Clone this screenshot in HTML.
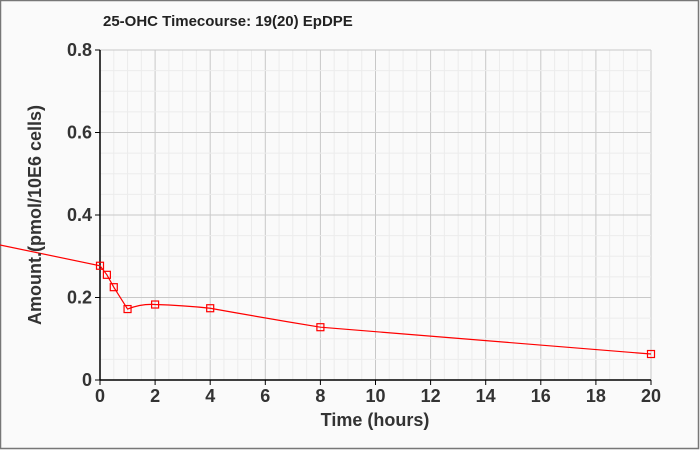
<!DOCTYPE html>
<html><head><style>
body{margin:0;background:#fafafa}
svg{display:block}
text{font-family:"Liberation Sans",Arial,sans-serif;font-weight:bold;fill:#333}
</style></head><body>
<svg id="s" width="700" height="450" xmlns="http://www.w3.org/2000/svg">
<rect x="0.5" y="0.5" width="698" height="448" fill="#fafafa" stroke="#777" stroke-width="1.5"/>
<g id="g"></g>
<text x="103" y="26" font-size="15" style="fill:#222">25-OHC Timecourse: 19(20) EpDPE</text>
<text x="375" y="426" font-size="18" text-anchor="middle">Time (hours)</text>
<text transform="translate(41,215) rotate(-90)" font-size="18" text-anchor="middle">Amount.(pmol/10E6 cells)</text>
</svg>
<script>
const g=document.getElementById('g');let h='';
const X=t=>100+t*27.55, Y=v=>380-v*412.5;
for(let t=0;t<=20;t+=0.5){const x=X(t);h+=`<line x1="${x}" y1="50" x2="${x}" y2="380" stroke="${t%2==0?'#c8c8c8':'#ececec'}" stroke-width="1"/>`;}
for(let v=0;v<=0.8001;v+=0.05){const y=Y(v);const maj=Math.abs(v/0.2-Math.round(v/0.2))<1e-6;h+=`<line x1="100" y1="${y}" x2="651" y2="${y}" stroke="${maj?'#c8c8c8':'#ececec'}" stroke-width="1"/>`;}
h+=`<line x1="100" y1="50" x2="100" y2="380" stroke="#000" stroke-width="1.5"/><line x1="100" y1="380" x2="651" y2="380" stroke="#000" stroke-width="1.5"/>`;
for(let t=0;t<=20;t+=2){const x=X(t);h+=`<line x1="${x}" y1="380" x2="${x}" y2="385" stroke="#000"/><text x="${x}" y="402" font-size="18" text-anchor="middle">${t}</text>`;}
for(let v=0;v<=0.8001;v+=0.2){const y=Y(v);h+=`<line x1="95" y1="${y}" x2="100" y2="${y}" stroke="#000"/><text x="92" y="${y+6}" font-size="18" text-anchor="end">${v==0?'0':v.toFixed(1)}</text>`;}
const d=[[0,.277],[.25,.255],[.5,.225],[1,.172],[2,.183],[4,.174],[8,.128],[20,.063]];
let p=`M0,245 L${X(0)},${Y(.277)}`;
p+=` L${X(.25)},${Y(.255)} L${X(.5)},${Y(.225)} L${X(1)},${Y(.172)} Q${X(1.5)},${Y(.185)} ${X(2)},${Y(.183)} Q${X(3)},${Y(.181)} ${X(4)},${Y(.174)} Q${X(6)},${Y(.15)} ${X(8)},${Y(.128)} L${X(20)},${Y(.063)}`;
h+=`<path d="${p}" fill="none" stroke="#f00" stroke-width="1.2"/>`;
d.forEach(([t,v])=>{h+=`<rect x="${X(t)-3.5}" y="${Y(v)-3.5}" width="7" height="7" fill="none" stroke="#f00" stroke-width="1.2"/>`;});
g.innerHTML=h;
</script>
</body></html>
